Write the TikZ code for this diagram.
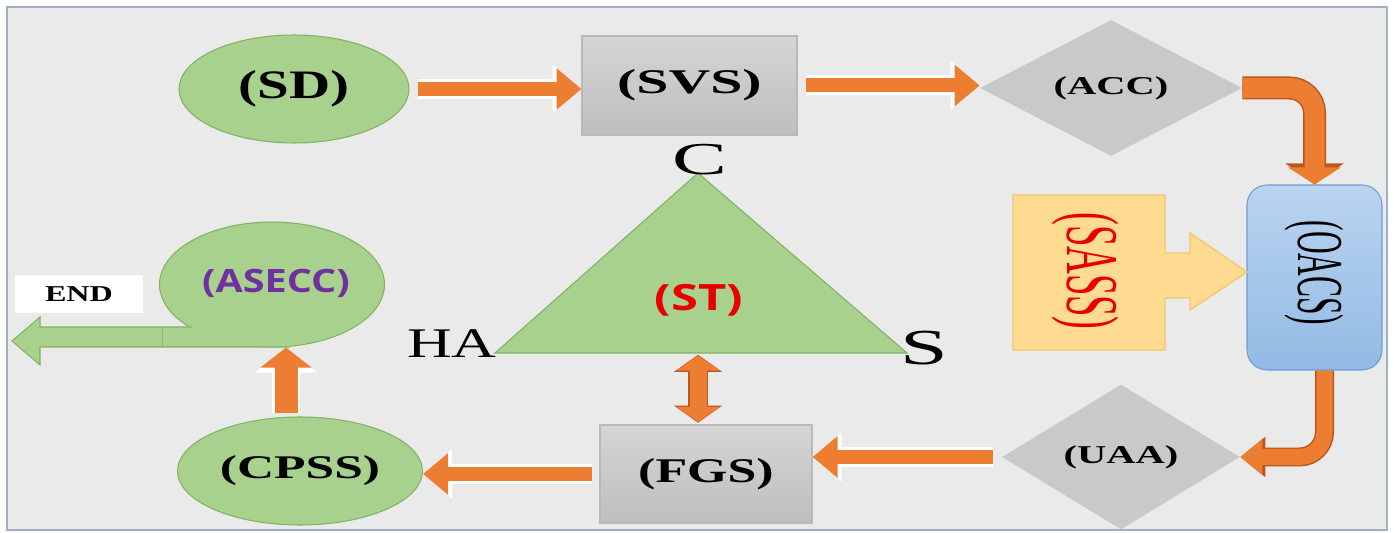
\documentclass[tikz,border=0pt]{standalone}
\usepackage{fontspec}
\setmainfont{Liberation Serif}
\newfontfamily\opensans{Open Sans}
\usepackage{graphicx}
\usetikzlibrary{shapes.geometric,arrows.meta,calc}

\definecolor{bgcol}{RGB}{234,234,234}
\definecolor{framecol}{RGB}{160,176,196}
\definecolor{leaf}{RGB}{169,209,142}
\definecolor{leafline}{RGB}{128,178,98}
\definecolor{graytop}{RGB}{213,213,213}
\definecolor{graybot}{RGB}{190,190,190}
\definecolor{grayline}{RGB}{185,185,185}
\definecolor{diamondgray}{RGB}{201,201,201}
\definecolor{orangefill}{RGB}{237,125,49}
\definecolor{orangeline}{RGB}{185,88,28}
\definecolor{sassfill}{RGB}{255,218,145}
\definecolor{sassline}{RGB}{240,200,110}
\definecolor{oacstop}{RGB}{186,212,240}
\definecolor{oacsbot}{RGB}{146,186,228}
\definecolor{oacsline}{RGB}{108,158,210}
\definecolor{asecctext}{RGB}{112,48,160}
\definecolor{redtext}{RGB}{232,0,0}

\newcommand\fsz[1]{\fontsize{#1}{#1}\selectfont}
\newcommand\stretchx[2]{\scalebox{#1}[1]{#2}}
\newcommand\stretchy[2]{\scalebox{1}[#1]{#2}}

\tikzset{
  oval/.style={ellipse, fill=leaf, draw=leafline, line width=0.6pt},
  graybox/.style={rectangle, top color=graytop, bottom color=graybot, draw=grayline, line width=0.6pt},
  decision/.style={diamond, aspect=2, fill=diamondgray},
  % block arrows: a white rim under an orange body
  flowrim/.style={draw=white, line width=0.4cm, -{Triangle[width=0.94cm,length=0.58cm]}},
  flow/.style={draw=orangefill, line width=0.28cm, -{Triangle[width=0.8cm,length=0.5cm]}},
  uprim/.style={draw=white, line width=0.58cm, -{Triangle[width=1.22cm,length=0.5cm]}},
  upflow/.style={draw=orangefill, line width=0.46cm, -{Triangle[width=1.0cm,length=0.4cm]}},
  % bent arrows with a dark edge
  bendrim/.style={draw=orangeline, line width=0.46cm, rounded corners=0.5cm, -{Triangle[width=1.14cm,length=0.42cm]}},
  bendflow/.style={draw=orangefill, line width=0.4cm, rounded corners=0.5cm, -{Triangle[width=1.04cm,length=0.34cm]}},
  thinrim/.style={draw=orangeline, line width=0.38cm, rounded corners=0.5cm, -{Triangle[width=0.78cm,length=0.5cm]}},
  thinflow/.style={draw=orangefill, line width=0.32cm, rounded corners=0.5cm, -{Triangle[width=0.68cm,length=0.44cm]}},
  tworim/.style={draw=orangeline, line width=0.4cm, {Triangle[width=0.94cm,length=0.34cm]}-{Triangle[width=0.94cm,length=0.34cm]}},
  twoflow/.style={draw=orangefill, line width=0.34cm, {Triangle[width=0.86cm,length=0.3cm]}-{Triangle[width=0.86cm,length=0.3cm]}},
}

\begin{document}
\begin{tikzpicture}[x=0.02cm, y=-0.02cm, every node/.style={inner sep=0pt}]
  \useasboundingbox (0,0) rectangle (1394,533);
  \fill[white] (0,0) rectangle (1394,533);
  \filldraw[fill=bgcol, draw=framecol, line width=1pt] (7,7) rectangle (1387,530);

  % top row
  \node[oval, minimum width=4.6cm, minimum height=2.16cm] (sd) at (294,89)
    {\fsz{23}\bfseries\stretchx{1.41}{(SD)}};
  \node[graybox, minimum width=4.3cm, minimum height=1.98cm] (svs) at (689.5,85.5)
    {\fsz{19.7}\bfseries\stretchx{1.67}{(SVS)}};
  \node[decision, minimum width=5.24cm, minimum height=2.72cm] (acc) at (1111,88)
    {\fsz{14.6}\bfseries\stretchx{1.58}{(ACC)}};

  % right column
  \node[rectangle, rounded corners=0.4cm, top color=oacstop, bottom color=oacsbot, draw=oacsline,
        line width=0.6pt, minimum width=2.7cm, minimum height=3.7cm] (oacs) at (1314.5,277.5) {};
  \node[rotate=-90] (oacstext) at (1314,273) {\fsz{17.9}\stretchy{2.08}{(OACS)}};
  \filldraw[fill=sassfill, draw=sassline, line width=0.8pt]
    (1013,195) -- (1165,195) -- (1165,253) -- (1190,253) -- (1190,233) -- (1247,272)
    -- (1190,310) -- (1190,298) -- (1165,298) -- (1165,350) -- (1013,350) -- cycle;
  \node[rotate=-90, text=redtext] (sass) at (1085,271) {\fsz{21.9}\stretchy{1.93}{(SASS)}};
  \node[decision, minimum width=4.76cm, minimum height=2.9cm] (uaa) at (1121,457)
    {\fsz{14.6}\bfseries\stretchx{1.58}{(UAA)}};

  % bottom row
  \node[graybox, minimum width=4.24cm, minimum height=1.96cm] (fgs) at (706,474)
    {\fsz{19.7}\bfseries\stretchx{1.5}{(FGS)}};
  \node[oval, minimum width=4.9cm, minimum height=2.16cm] (cpss) at (300,471)
    {\fsz{18.8}\bfseries\stretchx{1.56}{(CPSS)}};

  % exit
  \node[oval, minimum width=4.5cm, minimum height=2.5cm] (asecc) at (272,284.5) {};
  \fill[leaf] (290,327) -- (40,327) -- (40,317) -- (12,341) -- (40,365) -- (40,347) -- (290,347) -- cycle;
  \draw[leafline, line width=0.6pt] (290,347) -- (40,347) -- (40,365) -- (12,341) -- (40,317) -- (40,327) -- (192,327);
  \draw[leafline!70!leaf, line width=0.5pt] (162,327) -- (162,347);
  \node[text=asecctext] (ascl) at (276,283) {\opensans\bfseries\fsz{18.3}\stretchx{1.23}{(ASECC)}};
  \node[fill=white, minimum width=2.56cm, minimum height=0.76cm] (endbox) at (79,294)
    {\fsz{12.9}\bfseries\stretchx{1.42}{END}};

  % triangle
  \coordinate (ha) at (495,353);
  \coordinate (cv) at (698,173);
  \coordinate (sv) at (907,353);
  \coordinate (stbase) at (698,353);
  \filldraw[fill=leaf, draw=leafline, line width=0.6pt] (ha) -- (cv) -- (sv) -- cycle;
  \node[text=redtext] (st) at (699,300) {\opensans\bfseries\fsz{20.6}\stretchx{1.35}{(ST)}};
  \node (lblc) at (700,160) {\fsz{26}\stretchx{1.8}{C}};
  \node (lblha) at (452,344) {\fsz{24}\stretchx{1.47}{HA}};
  \node (lbls) at (924,348) {\fsz{28.7}\stretchx{1.7}{S}};

  % connectors
  \draw[flowrim, shorten <=5pt] (sd.east) -- (sd.east -| svs.west);
  \draw[flow, shorten <=5pt] (sd.east) -- (sd.east -| svs.west);
  \draw[flowrim, shorten <=5pt] (svs.east) -- (svs.east -| acc.west);
  \draw[flow, shorten <=5pt] (svs.east) -- (svs.east -| acc.west);
  \draw[bendrim] (acc.east) -| (oacs.north);
  \draw[bendflow] (acc.east) -| (oacs.north);
  \draw[thinrim] ([xshift=0.2cm]oacs.south) |- (uaa.east);
  \draw[thinflow] ([xshift=0.2cm]oacs.south) |- (uaa.east);
  \draw[flowrim, shorten <=5pt] (uaa.west) -- (uaa.west -| fgs.east);
  \draw[flow, shorten <=5pt] (uaa.west) -- (uaa.west -| fgs.east);
  \draw[flowrim, shorten <=4pt] (fgs.west) -- (fgs.west -| cpss.east);
  \draw[flow, shorten <=4pt] (fgs.west) -- (fgs.west -| cpss.east);
  \coordinate (upx) at ($(cpss.north)!0.5!(asecc.south)$);
  \draw[uprim, shorten <=2pt] (upx |- cpss.north) -- (upx |- asecc.south);
  \draw[upflow, shorten <=2pt] (upx |- cpss.north) -- (upx |- asecc.south);
  \draw[tworim, shorten <=1pt, shorten >=1pt] (stbase) -- (stbase |- fgs.north);
  \draw[twoflow, shorten <=1.5pt, shorten >=1.5pt] (stbase) -- (stbase |- fgs.north);
\end{tikzpicture}
\end{document}
